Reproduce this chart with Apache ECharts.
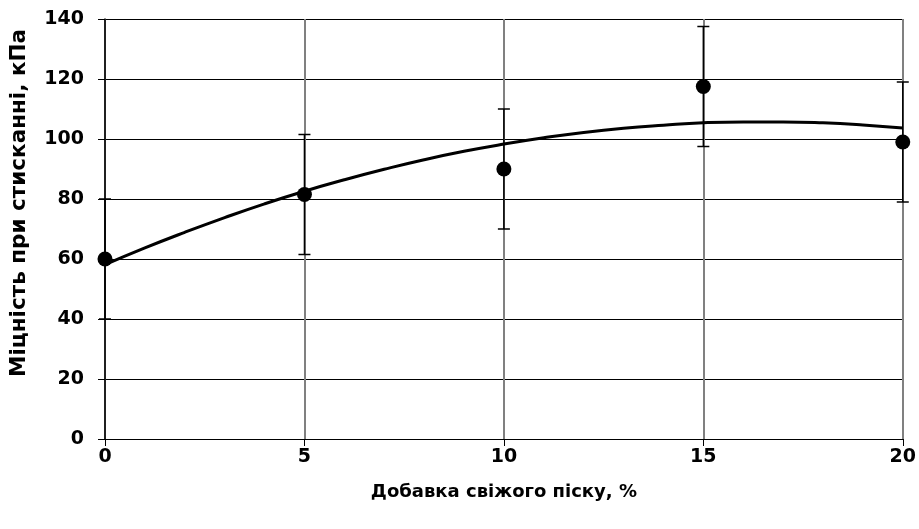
<!DOCTYPE html>
<html>
<head>
<meta charset="utf-8">
<script src="https://cdn.jsdelivr.net/npm/echarts@6/dist/echarts.min.js"></script>
<style>html,body{margin:0;padding:0;background:#fff}#c{width:919px;height:529px}</style>
</head>
<body>
<div id="c"></div>
<script>
// Measured points
const sandPct = [0, 5, 10, 15, 20];
const strength = [60, 81.5, 90, 117.5, 99];
const errAmount = [20, 20, 20, 20, 20];
// Trend line
const trendX = [0,1,2,3,4,5,6,7,8,9,10,11,12,13,14,15,16,17,18,19,20];
const trendY = [58.1,63.7,68.9,73.8,78.4,82.6,86.4,89.9,93.1,95.9,98.3,100.4,102.2,103.6,104.6,105.4,105.7,105.7,105.4,104.7,103.7];
// Axis ticks
const xTicks = [0, 5, 10, 15, 20];
const yTicks = [0, 20, 40, 60, 80, 100, 120, 140];
const xTitle = 'Добавка свіжого піску, %';
const yTitle = 'Міцність при стисканні, кПа';

const FONT = '"DejaVu Sans", "Liberation Sans", Arial, sans-serif';
const chart = echarts.init(document.getElementById('c'), null, {renderer: 'canvas'});

const errData = sandPct.map((x, i) => [x, strength[i] - errAmount[i], strength[i] + errAmount[i]]);

chart.setOption({
  animation: false,
  backgroundColor: '#fff',
  grid: {left: 105, right: 16, top: 19, bottom: 90},
  xAxis: {
    type: 'value', min: xTicks[0], max: xTicks[xTicks.length - 1], interval: xTicks[1] - xTicks[0],
    name: xTitle, nameLocation: 'middle', nameGap: 44,
    nameTextStyle: {fontFamily: FONT, fontWeight: 'bold', fontSize: 18, color: '#000'},
    axisLine: {show: true, onZero: false, lineStyle: {color: '#000', width: 1}},
    axisTick: {show: true, length: 7, lineStyle: {color: '#000'}},
    axisLabel: {fontFamily: FONT, fontWeight: 'bold', fontSize: 19, color: '#000', margin: 9},
    splitLine: {show: true, lineStyle: {color: '#808080', width: 2}}
  },
  yAxis: {
    type: 'value', min: yTicks[0], max: yTicks[yTicks.length - 1], interval: yTicks[1] - yTicks[0],
    name: yTitle, nameLocation: 'middle', nameGap: 75,
    nameTextStyle: {fontFamily: FONT, fontWeight: 'bold', fontSize: 21.5, color: '#000', padding: [0, 0, 0, 52]},
    axisLine: {show: true, onZero: false, lineStyle: {color: '#000', width: 1.5}},
    axisTick: {show: true, length: 7, lineStyle: {color: '#000'}},
    axisLabel: {fontFamily: FONT, fontWeight: 'bold', fontSize: 19, color: '#000', margin: 21},
    splitLine: {show: true, lineStyle: {color: '#000', width: 1}}
  },
  series: [
    {
      type: 'custom',
      data: errData,
      z: 3,
      renderItem: function (params, api) {
        const x = api.value(0);
        const lo = api.coord([x, api.value(1)]);
        const hi = api.coord([x, api.value(2)]);
        const w = 6;
        const st = {stroke: '#000', lineWidth: 1.5};
        return {
          type: 'group',
          children: [
            {type: 'line', shape: {x1: lo[0], y1: lo[1], x2: hi[0], y2: hi[1]}, style: st},
            {type: 'line', shape: {x1: lo[0] - w, y1: lo[1], x2: lo[0] + w, y2: lo[1]}, style: st},
            {type: 'line', shape: {x1: hi[0] - w, y1: hi[1], x2: hi[0] + w, y2: hi[1]}, style: st}
          ]
        };
      }
    },
    {
      type: 'line',
      data: trendX.map((x, i) => [x, trendY[i]]),
      smooth: true,
      showSymbol: false,
      z: 4,
      lineStyle: {color: '#000', width: 3}
    },
    {
      type: 'scatter',
      data: sandPct.map((x, i) => [x, strength[i]]),
      symbol: 'circle',
      symbolSize: 15,
      z: 5,
      itemStyle: {color: '#000', opacity: 1}
    }
  ]
});
</script>
</body>
</html>
